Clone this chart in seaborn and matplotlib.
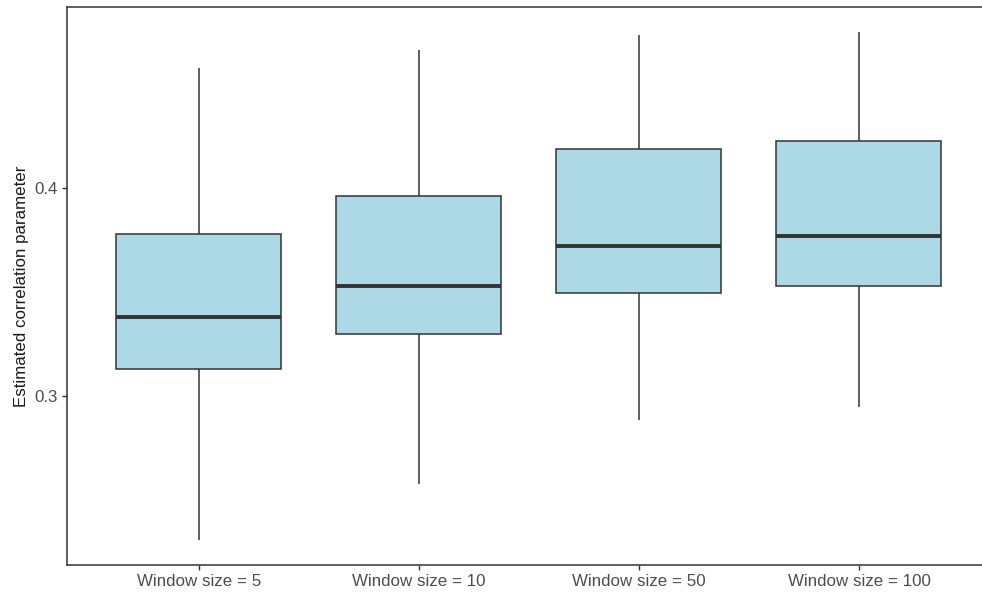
import matplotlib
matplotlib.use("Agg")
import matplotlib.pyplot as plt
import seaborn as sns
import pandas as pd

# Five-number summaries of the estimated correlation parameter per window size
categories = ["Window size = 5", "Window size = 10", "Window size = 50", "Window size = 100"]
lower_whisker = [0.2308, 0.2577, 0.2885, 0.2947]
q1 = [0.3130, 0.3298, 0.3495, 0.3529]
median = [0.3380, 0.3529, 0.3721, 0.3769]
q3 = [0.3779, 0.3962, 0.4188, 0.4226]
upper_whisker = [0.4577, 0.4663, 0.4736, 0.4750]

rows = []
for i, cat in enumerate(categories):
    for v in (lower_whisker[i], q1[i], median[i], q3[i], upper_whisker[i]):
        rows.append({"window": cat, "estimate": v})
df = pd.DataFrame(rows)

sns.set_theme(style="ticks")
plt.rcParams["font.family"] = ["Liberation Sans", "DejaVu Sans"]

W, H = 982, 597
fig = plt.figure(figsize=(W / 100, H / 100), dpi=100)
ax = fig.add_axes([67 / W, 32 / H, 924 / W, 558 / H])

edge = "#333333"
sns.boxplot(
    data=df, x="window", y="estimate", order=categories, ax=ax,
    color="#ADD8E6", saturation=1, width=0.75, whis=(0, 100),
    linecolor=edge, linewidth=1.1, fliersize=0, showcaps=False,
    medianprops=dict(color=edge, linewidth=2.8),
)

ymin, ymax = min(lower_whisker), max(upper_whisker)
pad = 0.05 * (ymax - ymin)
ax.set_ylim(ymin - pad, ymax + pad)
ax.set_xlim(-0.6, 3.6)
ax.set_yticks([0.3, 0.4])
ax.set_yticklabels(["0.3", "0.4"])

ax.set_xlabel("")
ax.set_ylabel("Estimated correlation parameter", fontsize=12.2, color="#1a1a1a", labelpad=4)
ax.tick_params(axis="both", labelsize=12.2, labelcolor="#4D4D4D", color="#333333",
               length=3.6, width=1.0, pad=3)

for side in ("left", "bottom", "top", "right"):
    ax.spines[side].set_visible(True)
    ax.spines[side].set_color("#333333")
    ax.spines[side].set_linewidth(1.1)

fig.savefig("out.png", dpi=100)
